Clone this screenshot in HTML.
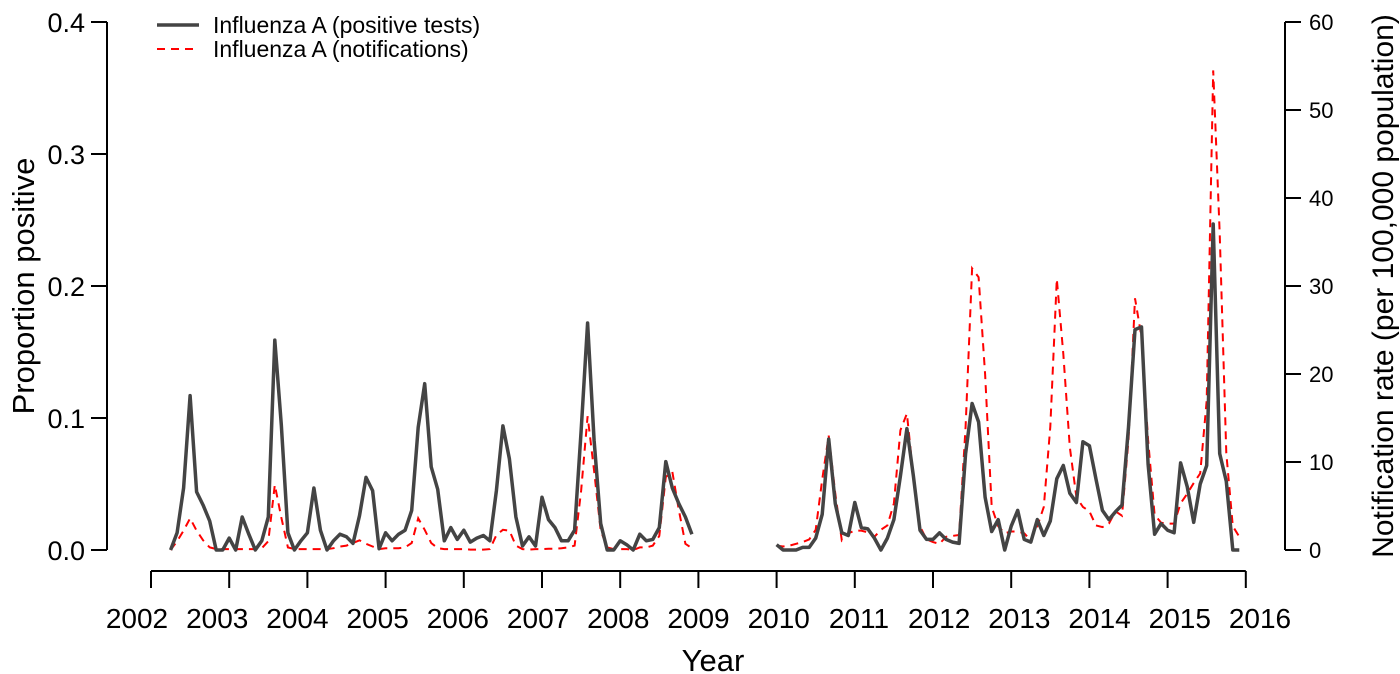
<!DOCTYPE html>
<html><head><meta charset="utf-8"><style>
html,body{margin:0;padding:0;background:#fff;}
svg{display:block;font-family:"Liberation Sans",Arial,sans-serif;}
</style></head><body>
<svg id="chart" width="1400" height="674" viewBox="0 0 1400 674"></svg>
<script>
// data (monthly, index k = months since Jan 2002)
const startA = 3;   // Apr 2002
const startB = 96;  // Jan 2010
const positiveA = [0,.013,.047,.117,.044,.034,.022,0,0,.009,0,.025,.012,0,.007,.025,.159,.095,.013,0,.007,.013,.047,.015,0,.007,.012,.01,.005,.026,.055,.045,.001,.013,.007,.012,.015,.03,.093,.126,.063,.046,
.007,.017,.008,.015,.006,.009,.011,.007,.045,.094,.069,.025,.003,.01,.003,.04,.023,.017,.007,.007,.015,.09,.172,.083,.02,0,0,.007,.004,0,.012,.007,.008,.017,.067,.047,.035,.025,.012];
const notifA = [0,1.0,2.2,3.6,2.2,1.1,.3,.1,.1,.1,.1,.1,.1,.1,.2,1.0,7.4,3.7,.3,.1,.1,.1,.1,.1,.1,.2,.4,.5,.8,1.1,.7,.4,.1,.2,.2,.2,.3,.8,3.6,2.3,.8,.2,
.1,.1,.1,.1,.05,.05,.05,.1,1.7,2.3,2.2,.5,.1,.05,.1,.1,.15,.15,.2,.3,.5,6.7,15.2,9,2.2,.3,.1,.1,.1,0,.3,.3,.5,1.6,8.3,8.9,4.5,.7,.2];
const positiveB = [.004,0,0,0,.002,.002,.009,.027,.084,.035,.013,.011,.036,.017,.016,.009,0,.009,.023,.056,.092,.056,.015,.008,.008,.013,.008,.006,.005,.073,.111,.097,.04,.014,.023,0,.018,.03,.008,.006,.023,.011,.022,.054,.064,.043,.036,.082,.079,.054,.03,.023,.029,.034,.093,.167,.169,.065,.012,.02,.015,.013,.066,.048,.021,.05,.064,.247,.073,.052,0,0];
const notifB = [.5,.4,.5,.7,.9,1.2,2.3,8,13,6.4,1.1,1.9,2.2,2.2,2,1.5,2.3,2.8,5.3,13.6,15.5,8.3,2.7,1.2,.9,.7,1.5,1.6,1.7,14,32,31,20,4.9,2.7,1.9,2.1,2.1,1.9,1.1,2.7,4.9,14,30.8,22.3,11.7,6,4.9,4.4,2.8,2.6,3,4.4,3.9,12.5,28.6,24.2,12.5,4,3.1,3,3,5.3,6.4,7.6,8.7,17,54.5,36,11,2.7,1.5];
const years = [2002,2003,2004,2005,2006,2007,2008,2009,2010,2011,2012,2013,2014,2015,2016];
const leftTicks = [0,0.1,0.2,0.3,0.4];
const leftLabels = ["0.0","0.1","0.2","0.3","0.4"];
const rightTicks = [0,10,20,30,40,50,60];

const svg = document.getElementById('chart');
const NS = 'http://www.w3.org/2000/svg';
const X0=151, YR=78.2, Y0=550, YT=22, XL=107, XR=1285;
const xk = k => X0 + YR*k/12;
const xy = y => X0 + YR*(y-2002);
const xLab = y => 137 + (1260-137)*(y-2002)/14;
const yL = v => Y0 - (Y0-YT)*v/0.4;
const yR = v => Y0 - (Y0-YT)*v/60;
function mk(tag, attrs, parent){const e=document.createElementNS(NS,tag);for(const a in attrs)e.setAttribute(a,attrs[a]);(parent||svg).appendChild(e);return e;}
function txt(s, attrs){const e=mk('text',attrs);e.textContent=s;return e;}

// left axis
let e = mk('line',{x1:XL,y1:yL(0),x2:XL,y2:yL(0.4),stroke:'#000','stroke-width':2});


leftTicks.forEach((v,i)=>{
  const t=mk('line',{x1:XL-16,y1:yL(v),x2:XL,y2:yL(v),stroke:'#000','stroke-width':2});
  
  
  const l=txt(leftLabels[i],{x:XL-22,y:yL(v)+10,'text-anchor':'end','font-size':27,fill:'#000'});
  
  
});
// right axis
e = mk('line',{x1:XR,y1:yR(0),x2:XR,y2:yR(60),stroke:'#000','stroke-width':2});


rightTicks.forEach(v=>{
  const t=mk('line',{x1:XR,y1:yR(v),x2:XR+16,y2:yR(v),stroke:'#000','stroke-width':2});
  
  
  const l=txt(String(v),{x:XR+24,y:yR(v)+8,'font-size':22,fill:'#000'});
  
  
});
// x axis
e = mk('line',{x1:xy(2002),y1:571,x2:xy(2016),y2:571,stroke:'#000','stroke-width':2});


years.forEach(y=>{
  const t=mk('line',{x1:xy(y),y1:571,x2:xy(y),y2:588,stroke:'#000','stroke-width':2});
  
  
  const l=txt(String(y),{x:xLab(y),y:628,'text-anchor':'middle','font-size':28,fill:'#000'});
  
  
});
// titles
e = txt('Year',{x:713,y:671,'text-anchor':'middle','font-size':31,fill:'#000'});


e = txt('Proportion positive',{x:0,y:0,transform:'translate(34,286) rotate(-90)','text-anchor':'middle','font-size':31,fill:'#000'});


e = txt('Notification rate (per 100,000 population)',{x:0,y:0,transform:'translate(1393,286) rotate(-90)','text-anchor':'middle','font-size':30,fill:'#000'});



// series
function pts(arr,start,f){return arr.map((v,i)=>xk(start+i).toFixed(1)+','+f(v).toFixed(1)).join(' ');}
[[notifA,startA],[notifB,startB]].forEach(([a,s])=>{
  const p=mk('polyline',{points:pts(a,s,yR),fill:'none',stroke:'#ff0000','stroke-width':2,'stroke-dasharray':'8,6'});
  
  
});
[[positiveA,startA],[positiveB,startB]].forEach(([a,s])=>{
  const p=mk('polyline',{points:pts(a,s,yL),fill:'none',stroke:'#444','stroke-width':3.5,'stroke-linejoin':'round'});
  
  
});

// legend
e = mk('line',{x1:157,y1:25,x2:199,y2:25,stroke:'#444','stroke-width':3.5});


e = txt('Influenza A (positive tests)',{x:213,y:33,'font-size':23,fill:'#000'});


e = mk('line',{x1:157,y1:49,x2:199,y2:49,stroke:'#ff0000','stroke-width':2,'stroke-dasharray':'8,6'});


e = txt('Influenza A (notifications)',{x:213,y:57,'font-size':23,fill:'#000'});


</script>
</body></html>
